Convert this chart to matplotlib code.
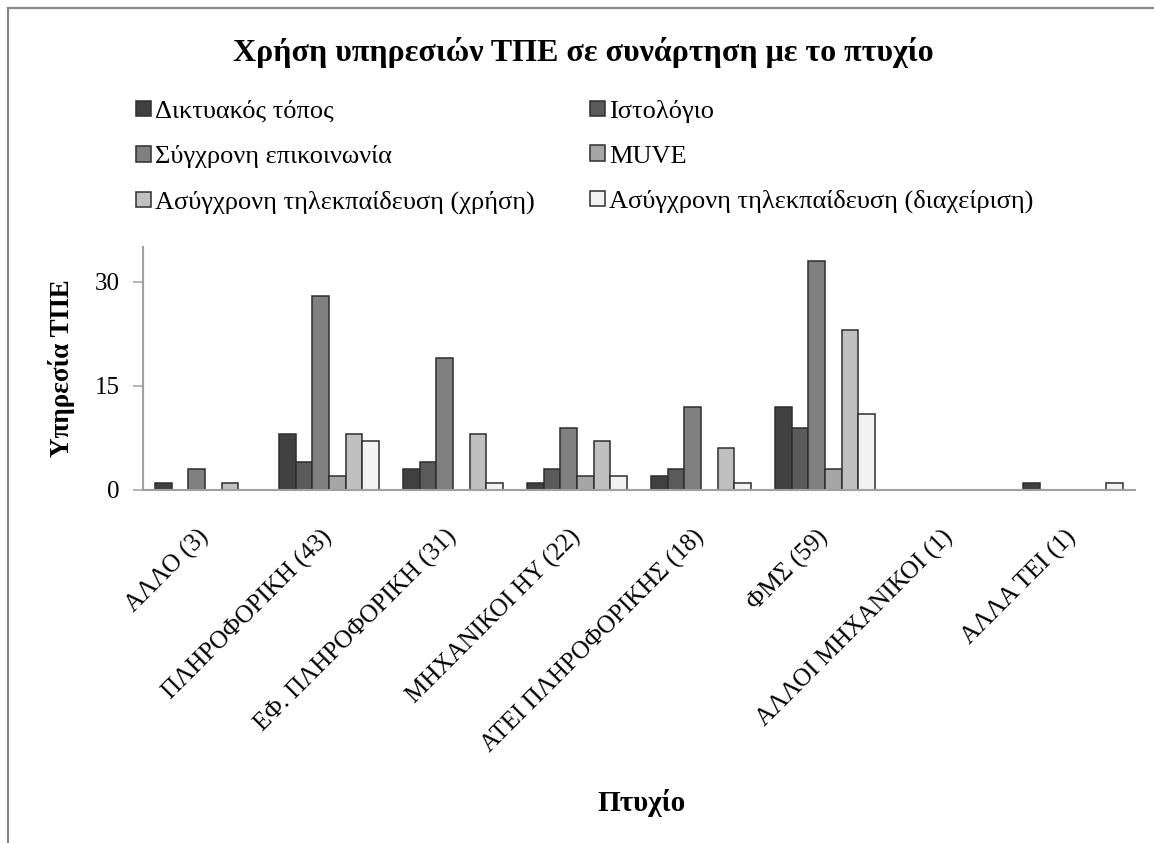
import matplotlib as mpl
mpl.use('agg')
import matplotlib.pyplot as plt
from matplotlib.patches import Rectangle, Patch
from matplotlib.transforms import ScaledTranslation
import numpy as np

# categories (degree) and counts per ICT service
categories = ['ΑΛΛΟ (3)', 'ΠΛΗΡΟΦΟΡΙΚΗ (43)', 'ΕΦ. ΠΛΗΡΟΦΟΡΙΚΗ (31)', 'ΜΗΧΑΝΙΚΟΙ ΗΥ (22)',
              'ΑΤΕΙ ΠΛΗΡΟΦΟΡΙΚΗΣ (18)', 'ΦΜΣ (59)', 'ΑΛΛΟΙ ΜΗΧΑΝΙΚΟΙ (1)', 'ΑΛΛΑ ΤΕΙ (1)']
series_names = ['Δικτυακός τόπος', 'Ιστολόγιο', 'Σύγχρονη επικοινωνία', 'MUVE',
                'Ασύγχρονη τηλεκπαίδευση (χρήση)', 'Ασύγχρονη τηλεκπαίδευση (διαχείριση)']
website = [1, 8, 3, 1, 2, 12, 0, 1]
blog = [0, 4, 4, 3, 3, 9, 0, 0]
sync_comm = [3, 28, 19, 9, 12, 33, 0, 0]
muve = [0, 2, 0, 2, 0, 3, 0, 0]
async_use = [1, 8, 8, 7, 6, 23, 0, 0]
async_admin = [0, 7, 1, 2, 1, 11, 0, 1]
yticks = [0, 15, 30]

series = [website, blog, sync_comm, muve, async_use, async_admin]
colors = ['#404040', '#5a5a5a', '#808080', '#a6a6a6', '#c0c0c0', '#f2f2f2']

plt.rcParams['font.family'] = ['Liberation Serif', 'DejaVu Serif']

fig = plt.figure(figsize=(11.54, 8.43), dpi=100)
W, H = 1154, 843
ax = fig.add_axes([143 / W, 1 - 490 / H, (1135 - 143) / W, (490 - 247) / H])

# frame round the chart area (cut off at right and bottom)
fig.patches.append(Rectangle((8 / W, -0.1), 1.2, 1 - 8 / H + 0.1, transform=fig.transFigure,
                             fill=False, edgecolor='#888888', linewidth=1.6))

x = np.arange(len(categories)) + 0.5
w = 1 / 7.5
for j, (vals, c) in enumerate(zip(series, colors)):
    ax.bar(x + (j - 2.5) * w, vals, width=w, color=c, edgecolor='#2e2e2e', linewidth=1.1,
           label=series_names[j])

ax.set_xlim(0, len(categories))
ax.set_ylim(0, 35)
ax.set_yticks(yticks)
ax.set_yticklabels([str(t) for t in yticks], fontsize=18)
ax.tick_params(axis='y', length=7, width=1.1, color='#a0a0a0', pad=10)
ax.set_xticks(x)
ax.set_xticklabels(categories, rotation=45, ha='right', rotation_mode='anchor', fontsize=18)
ax.tick_params(axis='x', length=0, pad=22)
shift = ScaledTranslation(-8 / 100, -5 / 100, fig.dpi_scale_trans)
for lbl in ax.get_xticklabels():
    lbl.set_transform(lbl.get_transform() + shift)

for s in ['top', 'right']:
    ax.spines[s].set_visible(False)
for s in ['left', 'bottom']:
    ax.spines[s].set_color('#a0a0a0')
    ax.spines[s].set_linewidth(1.5)

ax.set_ylabel('Υπηρεσία ΤΠΕ', fontsize=19.5, fontweight='bold', labelpad=14)
fig.text(641 / W, 1 - 803 / H, 'Πτυχίο', ha='center', va='center', fontsize=21, fontweight='bold')
fig.text(583 / W, 1 - 52 / H, 'Χρήση υπηρεσιών ΤΠΕ σε συνάρτηση με το πτυχίο',
         ha='center', va='center', fontsize=23, fontweight='bold')

# legend: rows are (0,1), (2,3), (4,5); matplotlib fills column-wise
handles = [Patch(facecolor=c, edgecolor='#2e2e2e', linewidth=1.1) for c in colors]
order = [0, 2, 4, 1, 3, 5]
fig.legend([handles[i] for i in order], [series_names[i] for i in order], ncol=2,
           loc='upper left', bbox_to_anchor=(136 / W, 1 - 100 / H), frameon=False,
           fontsize=19, handlelength=0.57, handleheight=0.53, handletextpad=0.15,
           columnspacing=2.1, labelspacing=0.85, borderpad=0, borderaxespad=0)

fig.savefig('out.png', dpi=100, facecolor='white')
